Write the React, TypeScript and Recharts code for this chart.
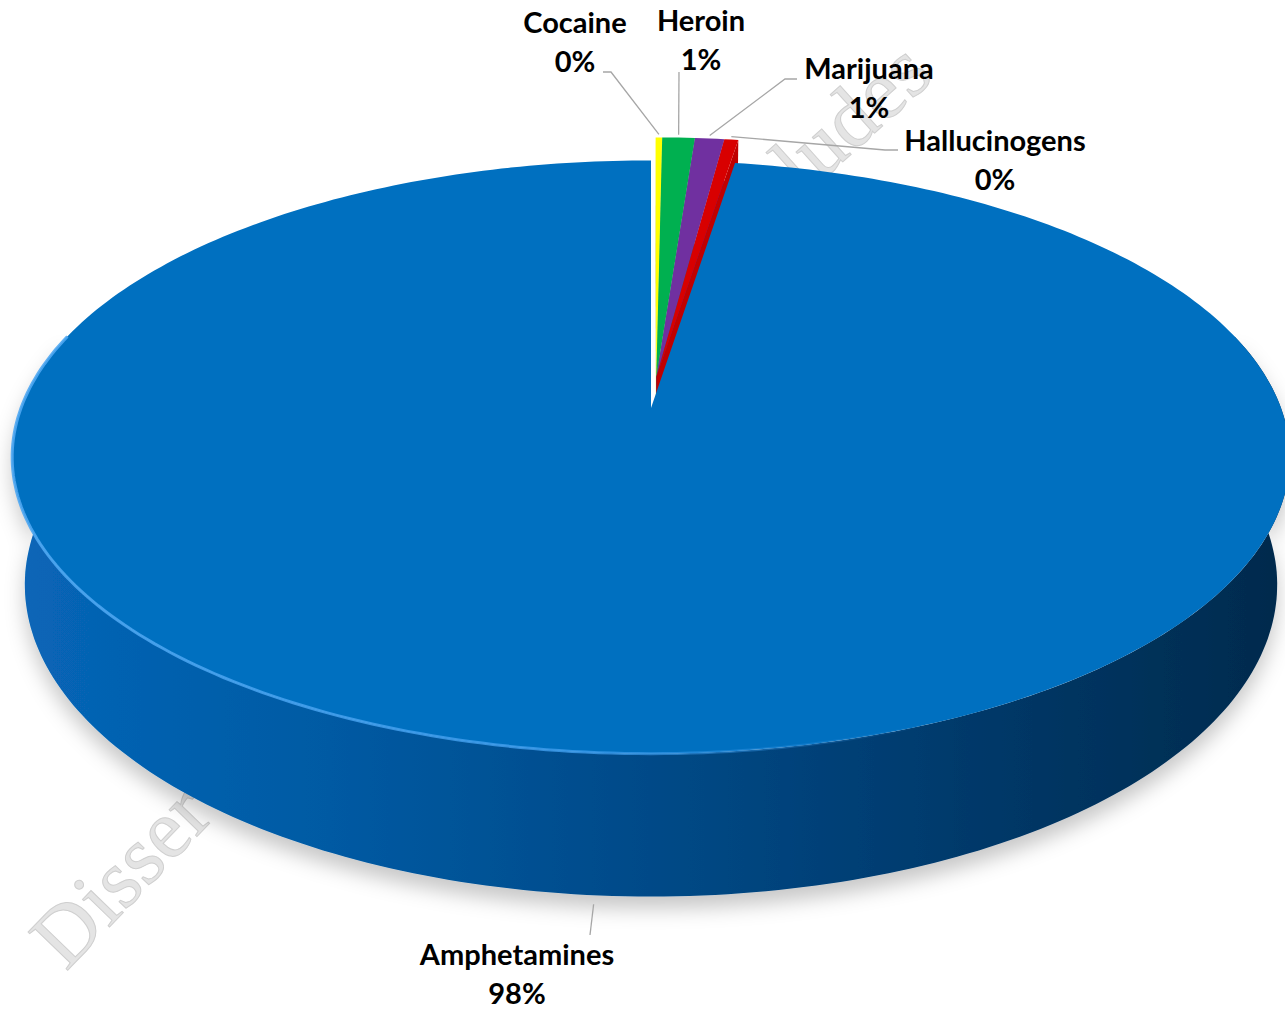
import React from 'react';
import { PieChart, Pie } from 'recharts';

// drug categories and their share of cases (%)
const categories = ['Cocaine', 'Heroin', 'Marijuana', 'Hallucinogens', 'Amphetamines'];
const shares = [0.2, 0.98, 0.88, 0.42, 97.52];

const data = categories.map((name, i) => ({ name, value: shares[i] }));

const topColors = ['#FFFF00', '#00B050', '#7030A0', '#D80000', '#0070C0'];
const wallColors = ['#C4C400', '#008A3E', '#55207D', '#A00000', 'url(#wallBlue)'];
const faceColors = ['#D6D600', '#00963F', '#5C2488', '#C00000', '#004A88'];

// where Excel put each data label (text centre, baseline) and the elbow of its leader line
const labelSpots: Record<string, { x: number; y: number; line: number[][] }> = {
  Cocaine: { x: 575, y: 33, line: [[603, 72], [611, 72]] },
  Heroin: { x: 701, y: 31, line: [[679, 72]] },
  Marijuana: { x: 869, y: 79, line: [[797, 79], [785, 79]] },
  Hallucinogens: { x: 995, y: 151, line: [[898, 150], [885, 150]] },
  Amphetamines: { x: 517, y: 965, line: [[590, 935]] },
};

// fake 3D camera: tilt, distance (in pie radii) and slab thickness
const TILT_SIN = 0.458;
const TILT_COS = 0.889;
const VIEW_DIST = 5.378;
const DEPTH = 0.23;
const EXPLODE = 0.11;
const FRONT_FROM = 165;
const FRONT_TO = 375;

const RAD = Math.PI / 180;
const cosd = (d: number) => Math.cos(d * RAD);
const sind = (d: number) => Math.sin(d * RAD);

const total = shares.reduce((s, v) => s + v, 0);
const smallShare = shares.filter((v) => v / total < 0.05).reduce((s, v) => s + v, 0);
const explodeAngle = 90 - (smallShare / total) * 180;

function explodeOffset(percent: number) {
  if (percent >= 0.05) return [0, 0];
  return [EXPLODE * cosd(explodeAngle), EXPLODE * sind(explodeAngle)];
}

function makeProjector(cx: number, cy: number, R: number, ox: number, oz: number) {
  return (deg: number, r: number, h: number) => {
    const X = ox + r * cosd(deg);
    const Z = oz + r * sind(deg);
    const yc = h * TILT_COS + Z * TILT_SIN;
    const zc = VIEW_DIST + Z * TILT_COS - h * TILT_SIN;
    const f = R * VIEW_DIST;
    return [cx + (f * X) / zc, cy - (f * yc) / zc];
  };
}

type Proj = ReturnType<typeof makeProjector>;

function arcPoints(P: Proj, from: number, to: number, h: number) {
  const n = Math.max(2, Math.ceil(Math.abs(to - from)));
  const pts: number[][] = [];
  for (let i = 0; i <= n; i++) pts.push(P(from + ((to - from) * i) / n, 1, h));
  return pts;
}

const toPath = (pts: number[][], close = true) =>
  pts.map((p, i) => `${i ? 'L' : 'M'}${p[0].toFixed(1)},${p[1].toFixed(1)}`).join('') + (close ? 'Z' : '');

function Slice3D(props: any) {
  const { cx, cy, outerRadius, startAngle, endAngle, percent } = props;
  const name = props.payload?.name ?? props.name;
  const i = Math.max(0, categories.indexOf(name));
  const lo = Math.min(startAngle, endAngle);
  const hi = Math.max(startAngle, endAngle);
  const [ox, oz] = explodeOffset(percent);
  const P = makeProjector(cx, cy, outerRadius, ox, oz);

  const camZ = -VIEW_DIST * TILT_COS;
  const sees = (nx: number, nz: number) => nx * (0 - ox) + nz * (camZ - oz) > 0.001;
  const face = (a: number) => toPath([P(a, 0, 0), P(a, 1, 0), P(a, 1, -DEPTH), P(a, 0, -DEPTH)]);
  const faces: string[] = [];
  if (sees(-sind(hi), cosd(hi))) faces.push(face(hi));
  if (sees(sind(lo), -cosd(lo))) faces.push(face(lo));

  const walls: number[][] = [];
  for (let k = -2; k <= 1; k++) {
    const a = Math.max(lo, FRONT_FROM + 360 * k);
    const b = Math.min(hi, FRONT_TO + 360 * k);
    if (b > a) walls.push([a, b]);
  }

  const top = toPath([P(0, 0, 0), ...arcPoints(P, hi, lo, 0)]);

  return (
    <g>
      {faces.map((d, k) => (
        <path key={`f${k}`} d={d} fill={faceColors[i]} />
      ))}
      {walls.map(([a, b], k) => (
        <path
          key={`w${k}`}
          d={toPath([...arcPoints(P, a, b, 0), ...arcPoints(P, b, a, -DEPTH)])}
          fill={wallColors[i]}
          filter="url(#pieShadow)"
        />
      ))}
      <path d={top} fill={topColors[i]} />
      {walls.map(([a, b], k) => (
        <path key={`r${k}`} d={toPath(arcPoints(P, a, b, 0), false)} fill="none" stroke="url(#rimGlow)" strokeWidth={3} />
      ))}
    </g>
  );
}

function renderLabel(props: any) {
  const { cx, cy, outerRadius, midAngle, percent } = props;
  const name = props.payload?.name ?? props.name;
  const spot = labelSpots[name];
  if (!spot) return null;
  const [ox, oz] = explodeOffset(percent);
  const P = makeProjector(cx, cy, outerRadius, ox, oz);
  const front = sind(midAngle) < 0;
  const [ax, ay] = front ? P(midAngle, 1, -DEPTH) : P(midAngle, 1, 0);
  const pts = [...spot.line, [ax, ay + (front ? 9 : -3)]];
  const textStyle = { fontFamily: 'Lato, "Open Sans", sans-serif', fontWeight: 700, fontSize: 29 };
  return (
    <g key={`lbl-${name}`}>
      <polyline points={pts.map((p) => p.join(',')).join(' ')} fill="none" stroke="#A6A6A6" strokeWidth={1.3} />
      <text x={spot.x} y={spot.y} textAnchor="middle" fill="#000" style={textStyle}>
        {name}
      </text>
      <text x={spot.x} y={spot.y + 39} textAnchor="middle" fill="#000" style={textStyle}>
        {`${Math.round(percent * 100)}%`}
      </text>
    </g>
  );
}

export default function App() {
  const markStyle = { fontFamily: '"Liberation Serif", serif', fontSize: 84 };
  return (
    <div style={{ position: 'absolute', left: 0, top: 0, width: 1285, height: 1009, background: '#fff', overflow: 'hidden' }}>
      <svg width={1285} height={1009} style={{ position: 'absolute', left: 0, top: 0 }}>
        <defs>
          <linearGradient id="wallBlue" gradientUnits="userSpaceOnUse" x1={10} y1={0} x2={1290} y2={0}>
            <stop offset="0" stopColor="#0866B8" />
            <stop offset="0.25" stopColor="#005AA3" />
            <stop offset="0.5" stopColor="#004A88" />
            <stop offset="0.75" stopColor="#00396A" />
            <stop offset="1" stopColor="#002A4C" />
          </linearGradient>
          <linearGradient id="rimGlow" gradientUnits="userSpaceOnUse" x1={10} y1={0} x2={1290} y2={0}>
            <stop offset="0" stopColor="#4FA8F2" stopOpacity={0.9} />
            <stop offset="0.45" stopColor="#3F9DED" stopOpacity={0.8} />
            <stop offset="0.72" stopColor="#2F8FE0" stopOpacity={0} />
          </linearGradient>
          <filter id="pieShadow" x="-10%" y="-10%" width="120%" height="140%">
            <feDropShadow dx={0} dy={12} stdDeviation={10} floodColor="#000" floodOpacity={0.22} />
          </filter>
        </defs>
        {/* faint watermark that sits behind the pie */}
        <text x={66} y={972} transform="rotate(-46 66 972)" fill="#E4E4E4" stroke="#CFCFCF" strokeWidth={1} style={markStyle}>
          Disser
        </text>
        <text x={776} y={222} transform="rotate(-42 776 222)" fill="#E4E4E4" stroke="#CFCFCF" strokeWidth={1} style={markStyle}>
          cludes
        </text>
      </svg>
      <div style={{ position: 'absolute', left: 0, top: 0 }}>
        <PieChart width={1285} height={1009} margin={{ top: 0, right: 0, bottom: 0, left: 0 }}>
          <Pie
            data={data}
            dataKey="value"
            nameKey="name"
            cx={651}
            cy={408}
            outerRadius={630}
            startAngle={90}
            endAngle={-270}
            stroke="none"
            isAnimationActive={false}
            shape={Slice3D}
            activeShape={Slice3D}
            inactiveShape={Slice3D}
            label={renderLabel}
            labelLine={false}
          />
        </PieChart>
      </div>
    </div>
  );
}
